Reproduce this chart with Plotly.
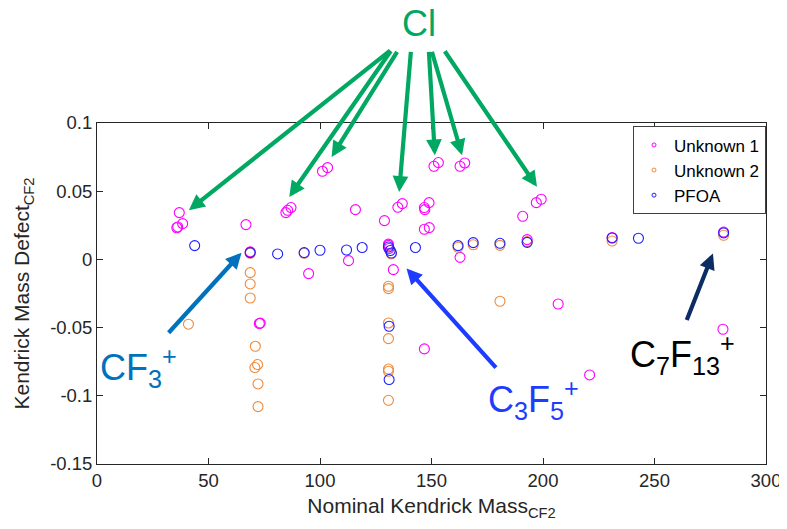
import plotly.graph_objects as go

# ---- data ----
unk1_x = [36.9, 38.4, 36.2, 35.8, 66.8, 84.7, 85.5, 87.0, 101.1, 103.4, 94.9, 151.1, 153.1,
          162.8, 164.9, 197.0, 199.2, 190.9, 115.9, 128.9, 134.9, 136.9, 146.8, 147.0, 148.9,
          146.8, 149.0, 112.8, 130.7, 130.9, 132.9, 162.8, 192.9, 72.8, 73.2, 206.8, 220.9,
          280.7, 146.8, 68.7, 130.7, 231.0, 281.0]
unk1_y = [0.0343, 0.0262, 0.0238, 0.0232, 0.0255, 0.0343, 0.0360, 0.0380, 0.0646, 0.0673,
          -0.0104, 0.0683, 0.0710, 0.0683, 0.0707, 0.0416, 0.0441, 0.0316, 0.0365, 0.0284,
          0.0382, 0.0409, 0.0380, 0.0365, 0.0416, 0.0221, 0.0233, -0.0009, 0.0103, 0.0080,
          -0.0075, 0.0015, 0.0145, -0.0470, -0.0467, -0.0327, -0.0847, -0.0512, -0.0656,
          0.0055, 0.0112, 0.0160, 0.0200]

unk2_x = [41.0, 68.7, 68.7, 68.7, 71.0, 72.0, 70.8, 72.2, 72.2, 130.7, 130.7, 130.7, 130.7,
          130.7, 130.7, 130.7, 180.7, 68.7, 92.9, 161.9, 168.7, 180.7, 231.0, 281.0, 192.9, 132.0]
unk2_y = [-0.0475, -0.0097, -0.0180, -0.0283, -0.0637, -0.0771, -0.0793, -0.0913, -0.1079,
          -0.0197, -0.0214, -0.0466, -0.0581, -0.0804, -0.0820, -0.1033, -0.0307, 0.0045,
          0.0045, 0.0089, 0.0107, 0.0103, 0.0135, 0.0177, 0.0130, 0.0040]

pfoa_x = [43.8, 68.7, 81.0, 92.9, 100.0, 111.9, 118.9, 130.7, 132.0, 131.5, 142.8, 161.9,
          168.7, 180.7, 192.9, 231.0, 242.8, 281.0, 131.0, 131.0]
pfoa_y = [0.0101, 0.0050, 0.0040, 0.0050, 0.0067, 0.0069, 0.0087, 0.0091, 0.0047, 0.0065,
          0.0087, 0.0101, 0.0123, 0.0118, 0.0125, 0.0157, 0.0155, 0.0194, -0.0490, -0.0881]

series_names = ["Unknown 1", "Unknown 2", "PFOA"]
series_colors = ["#FF00FF", "#EF8A3C", "#1E1EFF"]

x_ticks = [0, 50, 100, 150, 200, 250, 300]
y_ticks = [0.1, 0.05, 0, -0.05, -0.1, -0.15]
y_tick_text = ["0.1", "0.05", "0", "-0.05", "-0.1", "-0.15"]

# arrow annotations: (tail_x, tail_y, tip_x, tip_y)
cl_arrows = [
    (132.1, 0.1539, 41.2, 0.0361),
    (132.2, 0.1539, 86.2, 0.0458),
    (135.0, 0.1532, 105.2, 0.0751),
    (140.8, 0.1532, 135.5, 0.0495),
    (148.8, 0.1532, 151.5, 0.0764),
    (150.0, 0.1532, 163.7, 0.0764),
    (155.5, 0.1537, 197.3, 0.0532),
]
ion_arrows = [
    (31.5, -0.0549, 64.8, 0.0049, "#0072BD"),
    (179.5, -0.0805, 138.8, -0.0066, "#1E3CFF"),
    (264.2, -0.0456, 276.2, 0.0044, "#0B2D63"),
]
ion_labels = [
    ("CF<sub>3</sub><sup>+</sup>", 0.6, -0.0795, "#0072BD"),
    ("C<sub>3</sub>F<sub>5</sub><sup>+</sup>", 174.6, -0.1027, "#1E3CFF"),
    ("C<sub>7</sub>F<sub>13</sub><sup>+</sup>", 238.1, -0.0700, "#000000"),
]
GREEN = "#00A862"

FONT = "Liberation Sans, Arial, sans-serif"

fig = go.Figure()
for name, xs, ys, col in zip(series_names, [unk1_x, unk2_x, pfoa_x],
                             [unk1_y, unk2_y, pfoa_y], series_colors):
    fig.add_trace(go.Scatter(x=xs, y=ys, mode="markers", name=name, showlegend=False,
                             marker=dict(symbol="circle-open", size=10, color=col,
                                         line=dict(width=1.1, color=col))))
# legend entries with small markers
for name, col in zip(series_names, series_colors):
    fig.add_trace(go.Scatter(x=[None], y=[None], mode="markers", name=name,
                             marker=dict(symbol="circle-open", size=4, color=col,
                                         line=dict(width=1, color=col))))

ann = []
for tx, ty, hx, hy in cl_arrows:
    ann.append(dict(x=hx, y=hy, ax=tx, ay=ty, xref="x", yref="y", axref="x", ayref="y",
                    text="", showarrow=True, arrowhead=2, arrowsize=0.75, arrowwidth=4.2,
                    arrowcolor=GREEN, standoff=0))
for tx, ty, hx, hy, col in ion_arrows:
    ann.append(dict(x=hx, y=hy, ax=tx, ay=ty, xref="x", yref="y", axref="x", ayref="y",
                    text="", showarrow=True, arrowhead=2, arrowsize=0.75, arrowwidth=4.2,
                    arrowcolor=col, standoff=0))
for txt, x, y, col in ion_labels:
    ann.append(dict(x=x, y=y, xref="x", yref="y", text=txt, showarrow=False,
                    xanchor="left", yanchor="middle",
                    font=dict(family=FONT, size=36, color=col)))
ann.append(dict(x=0.4813, y=1.2925, xref="paper", yref="paper", text="Cl", showarrow=False,
                xanchor="center", yanchor="middle",
                font=dict(family=FONT, size=36, color=GREEN)))

# the page body adds an 8px offset, so the figure is 8px smaller on each leading side
fig.update_layout(
    width=779, height=521,
    margin=dict(l=89, r=21, t=115, b=65),
    paper_bgcolor="white", plot_bgcolor="white",
    font=dict(family=FONT, size=18.5, color="#262626"),
    annotations=ann,
    legend=dict(x=1.0, xanchor="right", y=0.99, yanchor="top",
                bgcolor="white", bordercolor="#404040", borderwidth=1,
                font=dict(family=FONT, size=17, color="#000000"),
                itemwidth=30, tracegroupgap=0),
    xaxis=dict(range=[0, 300], tickvals=x_ticks, showgrid=False, zeroline=False,
               showline=True, mirror="ticks", ticks="inside", ticklen=6,
               linecolor="#262626", tickcolor="#262626", linewidth=1, automargin=False,
               title=dict(text="Nominal Kendrick Mass<sub>CF2</sub>",
                          font=dict(size=21, color="#262626"), standoff=8)),
    yaxis=dict(range=[-0.15, 0.1], tickvals=y_ticks, ticktext=y_tick_text,
               showgrid=False, zeroline=False,
               showline=True, mirror="ticks", ticks="inside", ticklen=6,
               linecolor="#262626", tickcolor="#262626", linewidth=1, automargin=False,
               title=dict(text="Kendrick Mass Defect<sub>CF2</sub>",
                          font=dict(size=21, color="#262626"), standoff=14)),
)

fig.write_html("out.html")
